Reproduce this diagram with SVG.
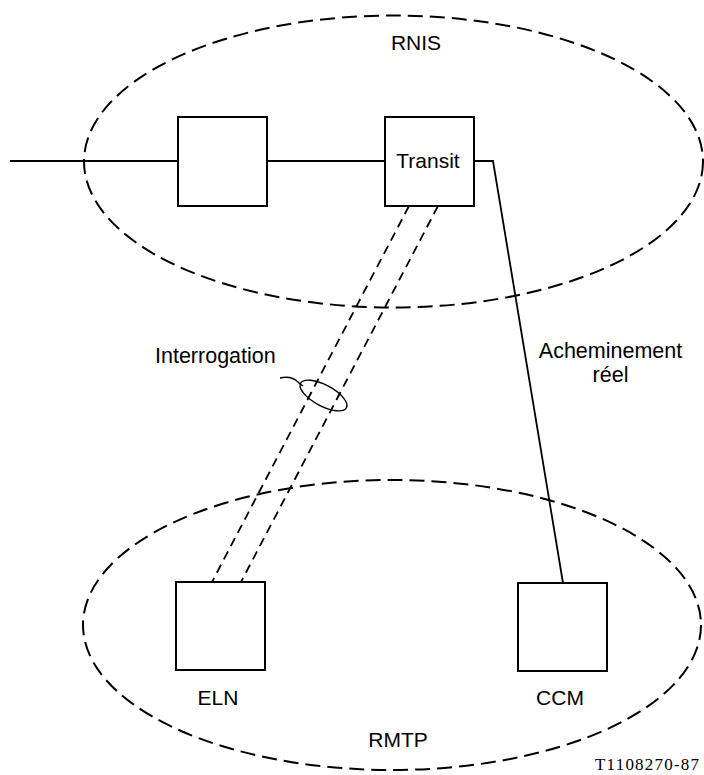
<svg xmlns="http://www.w3.org/2000/svg" width="704" height="775" viewBox="0 0 704 775">
<style>
.bg{fill:#fff}
.net{fill:none;stroke:#000;stroke-width:2;stroke-dasharray:15 7}
.box{fill:#fff;stroke:#000;stroke-width:2}
.line{fill:none;stroke:#000;stroke-width:1.8}
.dash{fill:none;stroke:#000;stroke-width:1.8;stroke-dasharray:9 6}
.thin{fill:none;stroke:#000;stroke-width:1.4}
text{font-family:"Liberation Sans",Arial,sans-serif;font-size:21px;fill:#000}
.lc{font-size:21.5px}
.ref{font-family:"Liberation Serif","Times New Roman",serif;font-size:17px}
</style>
<rect class="bg" x="0" y="0" width="704" height="775"/>
<g id="rnis">
<ellipse class="net" cx="393.5" cy="161.5" rx="309.5" ry="146"/>
<text x="416" y="50" text-anchor="middle">RNIS</text>
</g>
<g id="rmtp">
<ellipse class="net" cx="392" cy="625" rx="309" ry="145"/>
<text x="398" y="747" text-anchor="middle">RMTP</text>
</g>
<g id="connectors">
<line class="line" x1="10" y1="161" x2="178" y2="161"/>
<line class="line" x1="267" y1="161" x2="385" y2="161"/>
<polyline class="line" points="474,161 493,161 563,583"/>
<line class="dash" x1="409" y1="206" x2="212" y2="582"/>
<line class="dash" x1="438" y1="206" x2="241" y2="582"/>
<ellipse class="thin" cx="323.5" cy="395.5" rx="26" ry="10.5" transform="rotate(28 323.5 395.5)"/>
<path class="thin" d="M280,378 C289,376 294,378 298,382 S302,385 303,386"/>
</g>
<g id="box1">
<rect class="box" x="178" y="117" width="89" height="89"/>
</g>
<g id="transit">
<rect class="box" x="385" y="117" width="89" height="89"/>
<text x="428" y="168" text-anchor="middle">Transit</text>
</g>
<g id="eln">
<rect class="box" x="176" y="582" width="89" height="88"/>
<text x="218" y="705" text-anchor="middle">ELN</text>
</g>
<g id="ccm">
<rect class="box" x="518" y="583" width="89" height="88"/>
<text x="560" y="705" text-anchor="middle">CCM</text>
</g>
<g id="labels">
<text class="lc" x="155" y="363">Interrogation</text>
<text class="lc" x="610.5" y="358" text-anchor="middle">Acheminement</text>
<text class="lc" x="610.5" y="382" text-anchor="middle">réel</text>
<text class="ref" x="699" y="770" text-anchor="end" textLength="104">T1108270-87</text>
</g>
</svg>
